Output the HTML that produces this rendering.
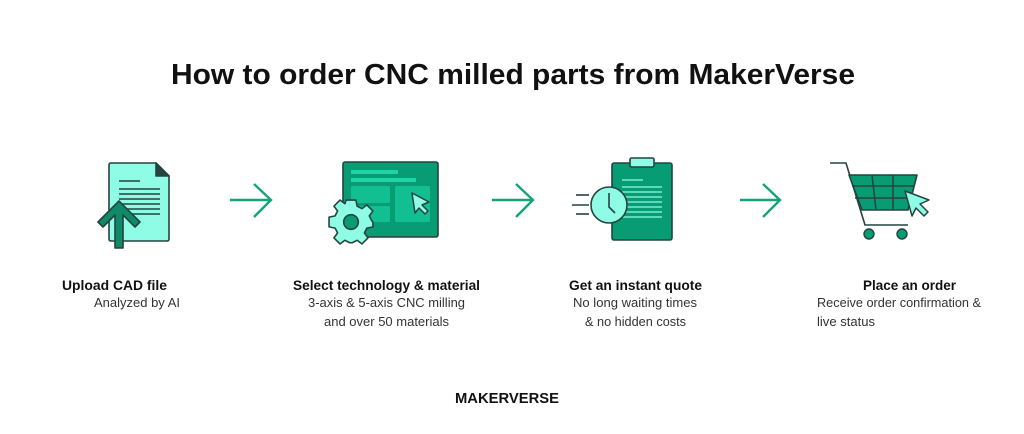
<!DOCTYPE html>
<html><head><meta charset="utf-8"><style>
html,body{margin:0;padding:0;background:#fff;}
svg{display:block;}
text{font-family:"Liberation Sans",sans-serif;fill:#111;}
.b{font-weight:bold;font-size:14px;}
.s{font-size:12.5px;fill:#333;}
</style></head><body>
<svg width="1024" height="434" viewBox="0 0 1024 434" xmlns="http://www.w3.org/2000/svg">
<rect width="1024" height="434" fill="#fff"/>
<text x="171" y="84" font-size="29" font-weight="bold" textLength="684" lengthAdjust="spacingAndGlyphs">How to order CNC milled parts from MakerVerse</text>

<!-- icon 1: document -->
<g stroke="#25433f" stroke-width="1.6" stroke-linejoin="round">
<path d="M111,163 H156 L169,176 V239 Q169,241 167,241 H111 Q109,241 109,239 V165 Q109,163 111,163Z" fill="#8ffce6"/>
<path d="M156,163 V176 H169Z" fill="#25433f"/>
</g>
<g stroke="#25433f" stroke-width="1.6">
<line x1="119" y1="181" x2="140" y2="181"/>
<line x1="119" y1="189" x2="160" y2="189"/>
<line x1="119" y1="194" x2="160" y2="194"/>
<line x1="119" y1="199" x2="160" y2="199"/>
<line x1="119" y1="204" x2="160" y2="204"/>
<line x1="119" y1="209" x2="160" y2="209"/>
<line x1="119" y1="214" x2="160" y2="214"/>
</g>
<path d="M115,248 V215 L103,227 L98,222 L119,201 L140,222 L135,227 L123,215 V248Z" fill="#0f8a68" stroke="#25433f" stroke-width="1.6" stroke-linejoin="round"/>

<!-- arrows -->
<g stroke="#16a37a" stroke-width="2.4" fill="none">
<path d="M230,200 H271 M254,184 L271,200 L254,217"/>
<path d="M492,200 H533 M516,184 L533,200 L516,217"/>
<path d="M740,200 H780 M763,184 L780,200 L763,217"/>
</g>

<!-- icon 2: screen + gear -->
<rect x="343" y="162" width="95" height="75" rx="2" fill="#079c74" stroke="#25433f" stroke-width="1.6"/>
<rect x="351" y="170" width="47" height="4" fill="#1fd3a6"/>
<rect x="351" y="178" width="65" height="4" fill="#1fd3a6"/>
<rect x="351" y="186" width="39" height="17" rx="1.5" fill="#11bf93"/>
<rect x="351" y="206" width="39" height="16" rx="1.5" fill="#11bf93"/>
<rect x="395" y="186" width="35" height="36" rx="1.5" fill="#11bf93"/>
<path d="M412,193 L429,202 L422,205 L428,211 L425,214 L419,208 L415,213Z" fill="#8ffce6" stroke="#25433f" stroke-width="1.5" stroke-linejoin="round"/>
<g transform="translate(351,222) scale(1.22)">
<path d="M-4,-18 H4 L5,-13 L9,-11 L13,-14 L18,-9 L15,-5 L17,-1 L18,0 V4 L13,5 L11,9 L14,13 L9,18 L5,15 L1,17 H-1 L-5,15 L-9,18 L-14,13 L-11,9 L-13,5 L-18,4 V-4 L-13,-5 L-11,-9 L-14,-13 L-9,-18 L-5,-15 Z" fill="#8ffce6" stroke="#25433f" stroke-width="1.3" stroke-linejoin="round"/>
<circle r="6" fill="#079c74" stroke="#25433f" stroke-width="1.3"/>
</g>

<!-- icon 3: clipboard + clock -->
<rect x="612" y="163" width="60" height="77" rx="2" fill="#079c74" stroke="#25433f" stroke-width="1.6"/>
<rect x="630" y="158" width="24" height="9" rx="1.5" fill="#8ffce6" stroke="#25433f" stroke-width="1.6"/>
<g stroke="#8ffce6" stroke-width="1.3">
<line x1="622" y1="180" x2="643" y2="180"/>
<line x1="622" y1="187" x2="662" y2="187"/>
<line x1="622" y1="192" x2="662" y2="192"/>
<line x1="622" y1="197" x2="662" y2="197"/>
<line x1="622" y1="202" x2="662" y2="202"/>
<line x1="622" y1="207" x2="662" y2="207"/>
<line x1="622" y1="212" x2="662" y2="212"/>
<line x1="622" y1="217" x2="662" y2="217"/>
</g>
<g stroke="#25433f" stroke-width="1.6">
<line x1="576" y1="195" x2="589" y2="195"/>
<line x1="572" y1="205" x2="589" y2="205"/>
<line x1="576" y1="214" x2="589" y2="214"/>
</g>
<circle cx="609" cy="205" r="18" fill="#8ffce6" stroke="#25433f" stroke-width="1.6"/>
<path d="M609,193 V207 L615,213" fill="none" stroke="#25433f" stroke-width="1.6"/>

<!-- icon 4: cart -->
<path d="M830,163 H846 L865,225 H908" fill="none" stroke="#25433f" stroke-width="1.6"/>
<path d="M849,175 H917 L908,210 H862Z" fill="#079c74" stroke="#25433f" stroke-width="1.6" stroke-linejoin="round"/>
<g stroke="#25433f" stroke-width="1.5">
<line x1="852" y1="186" x2="914" y2="186"/>
<line x1="855" y1="198" x2="911" y2="198"/>
<line x1="872" y1="175" x2="876" y2="210"/>
<line x1="893" y1="175" x2="893" y2="210"/>
</g>
<circle cx="869" cy="234" r="5" fill="#079c74" stroke="#25433f" stroke-width="1.4"/>
<circle cx="902" cy="234" r="5" fill="#079c74" stroke="#25433f" stroke-width="1.4"/>
<path d="M905,191 L929,200 L920,204 L928,212 L924,216 L916,208 L912,216Z" fill="#8ffce6" stroke="#25433f" stroke-width="1.5" stroke-linejoin="round"/>

<!-- labels -->
<text class="b" x="62" y="290" textLength="105" lengthAdjust="spacingAndGlyphs">Upload CAD file</text>
<text class="s" x="94" y="307" textLength="86" lengthAdjust="spacingAndGlyphs">Analyzed by AI</text>
<text class="b" x="293" y="290" textLength="187" lengthAdjust="spacingAndGlyphs">Select technology &amp; material</text>
<text class="s" x="308" y="307" textLength="157" lengthAdjust="spacingAndGlyphs">3-axis &amp; 5-axis CNC milling</text>
<text class="s" x="324" y="326" textLength="125" lengthAdjust="spacingAndGlyphs">and over 50 materials</text>
<text class="b" x="569" y="290" textLength="133" lengthAdjust="spacingAndGlyphs">Get an instant quote</text>
<text class="s" x="573" y="307" textLength="124" lengthAdjust="spacingAndGlyphs">No long waiting times</text>
<text class="s" x="585" y="326" textLength="101" lengthAdjust="spacingAndGlyphs">&amp; no hidden costs</text>
<text class="b" x="863" y="290" textLength="93" lengthAdjust="spacingAndGlyphs">Place an order</text>
<text class="s" x="817" y="307" textLength="164" lengthAdjust="spacingAndGlyphs">Receive order confirmation &amp;</text>
<text class="s" x="817" y="326" textLength="58" lengthAdjust="spacingAndGlyphs">live status</text>
<text x="455" y="403" font-size="15" font-weight="bold" textLength="104" lengthAdjust="spacingAndGlyphs">MAKERVERSE</text>
</svg>
</body></html>
